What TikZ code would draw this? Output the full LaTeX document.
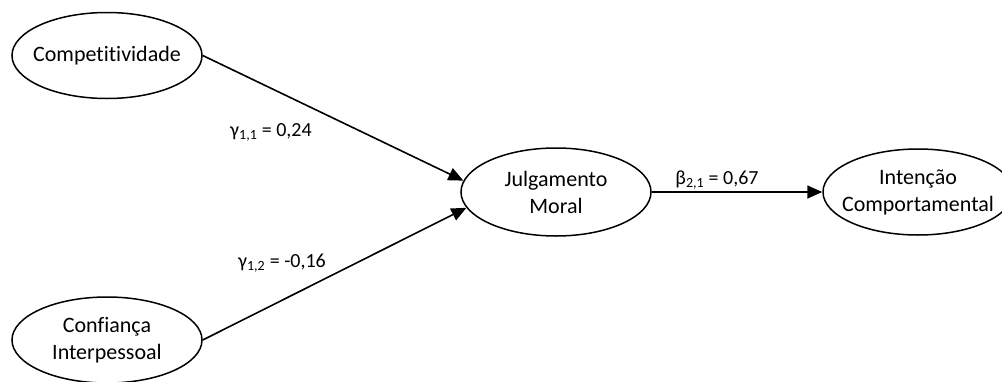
\documentclass[tikz,border=0pt]{standalone}
\usepackage{fontspec}
\setmainfont[Ligatures=NoCommon]{Carlito}
\usetikzlibrary{shapes.geometric,arrows.meta}
\begin{document}
\begin{tikzpicture}[x=1pt,y=-1pt,
  vartext/.style={inner sep=0pt,align=center,font=\fontsize{22}{27}\selectfont},
  var/.style={draw,ellipse,line width=1.5pt,inner sep=0pt,minimum width=190pt,minimum height=86pt,
    label={[vartext]center:#1}},
  link/.style={line width=1.6pt,-{Triangle[length=15pt,width=13pt]}},
  coef/.style={inner sep=0pt,font=\fontsize{20}{24}\selectfont}]
\useasboundingbox (0,0) rectangle (1002,381);
\clip (0,0) rectangle (1002,381);
\node[var={Competitividade}] (comp) at (107,55.5) {};
\node[var={Confiança\\Interpessoal}] (conf) at (107,340) {};
\node[var={Julgamento\\Moral},minimum height=88pt] (julg) at (556,192) {};
\node[var={Intenção\\Comportamental}] (int) at (918,192) {};
\draw[link] (comp.east) -- (julg.173);
\draw[link] (conf.east) -- (julg.190);
\draw[link] (julg.east) -- (int.west);
\node[coef] (g11) at (271,132) {γ\textsubscript{1,1} = 0,24};
\node[coef] (g12) at (282,263) {γ\textsubscript{1,2} = -0,16};
\node[coef] (b21) at (717,180) {β\textsubscript{2,1} = 0,67};
\end{tikzpicture}
\end{document}
